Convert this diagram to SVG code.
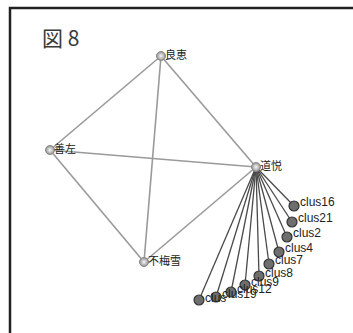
<svg xmlns="http://www.w3.org/2000/svg" width="353" height="333" viewBox="0 0 353 333">
<style>
.frame{stroke:#222;stroke-width:2.5;fill:none}
.e1{stroke:#9a9a9a;stroke-width:1.6;fill:none}
.e2{stroke:#4a4a4a;stroke-width:1.3;fill:none}
.main{fill:url(#g1);stroke:#8a8a8a;stroke-width:1}
.clus{fill:#6e6e6e;stroke:#333;stroke-width:1.2}
.lj{font-family:"Noto Sans CJK JP","Noto Sans CJK SC",sans-serif;font-size:11px;fill:#222}
.lc{font-family:"Liberation Sans",Arial,sans-serif;font-size:12px;fill:#222}
.title{font-family:"Noto Sans CJK JP","Noto Sans CJK SC",sans-serif;font-size:21px;fill:#3a3a3a}
</style>
<defs>
<radialGradient id="g1" cx="50%" cy="50%" r="50%">
<stop offset="0" stop-color="#f4f4f4"/>
<stop offset="0.6" stop-color="#bdbdbd"/>
<stop offset="1" stop-color="#8a8a8a"/>
</radialGradient>
</defs>
<rect width="353" height="333" fill="#fff"/>
<path class="frame" d="M10,333 V8 H353"/>
<text class="title" x="42" y="46">図 8</text>
<g id="edges">
<line class="e1" x1="161" y1="56" x2="50" y2="150"/>
<line class="e1" x1="161" y1="56" x2="256" y2="167"/>
<line class="e1" x1="161" y1="56" x2="144" y2="262"/>
<line class="e1" x1="50" y1="150" x2="256" y2="167"/>
<line class="e1" x1="50" y1="150" x2="144" y2="262"/>
<line class="e1" x1="144" y1="262" x2="256" y2="167"/>
<line class="e2" x1="256" y1="167" x2="294" y2="206"/>
<line class="e2" x1="256" y1="167" x2="292" y2="222"/>
<line class="e2" x1="256" y1="167" x2="287" y2="237"/>
<line class="e2" x1="256" y1="167" x2="279" y2="252"/>
<line class="e2" x1="256" y1="167" x2="269" y2="264"/>
<line class="e2" x1="256" y1="167" x2="259" y2="276"/>
<line class="e2" x1="256" y1="167" x2="245" y2="285"/>
<line class="e2" x1="256" y1="167" x2="231" y2="292"/>
<line class="e2" x1="256" y1="167" x2="216" y2="297"/>
<line class="e2" x1="256" y1="167" x2="199" y2="300"/>
</g>
<g id="n-ryoke"><circle class="main" cx="161" cy="56" r="4.5"/><text class="lj" x="165" y="59">良恵</text></g>
<g id="n-zensa"><circle class="main" cx="50" cy="150" r="4.5"/><text class="lj" x="54" y="153">善左</text></g>
<g id="n-fubaisetsu"><circle class="main" cx="144" cy="262" r="4.5"/><text class="lj" x="148" y="265">不梅雪</text></g>
<g id="n-clus16"><circle class="clus" cx="294" cy="206" r="5"/><text class="lc" x="300" y="206">clus16</text></g>
<g id="n-clus21"><circle class="clus" cx="292" cy="222" r="5"/><text class="lc" x="298" y="222">clus21</text></g>
<g id="n-clus2"><circle class="clus" cx="287" cy="237" r="5"/><text class="lc" x="293" y="237">clus2</text></g>
<g id="n-clus4"><circle class="clus" cx="279" cy="252" r="5"/><text class="lc" x="285" y="252">clus4</text></g>
<g id="n-clus7"><circle class="clus" cx="269" cy="264" r="5"/><text class="lc" x="275" y="264">clus7</text></g>
<g id="n-clus8"><circle class="clus" cx="259" cy="276" r="5"/><text class="lc" x="265" y="277">clus8</text></g>
<g id="n-clus9"><circle class="clus" cx="245" cy="285" r="5"/><text class="lc" x="251" y="286">clus9</text></g>
<g id="n-clus12"><circle class="clus" cx="231" cy="292" r="5"/><text class="lc" x="237" y="293">clus12</text></g>
<g id="n-clus19"><circle class="clus" cx="216" cy="297" r="5"/><text class="lc" x="222" y="298">clus19</text></g>
<g id="n-clus"><circle class="clus" cx="199" cy="300" r="5"/><text class="lc" x="205" y="302">clus</text></g>
<g id="n-doetsu"><circle class="main" cx="256" cy="167" r="4.5"/><text class="lj" x="260" y="170">道悦</text></g>
</svg>
